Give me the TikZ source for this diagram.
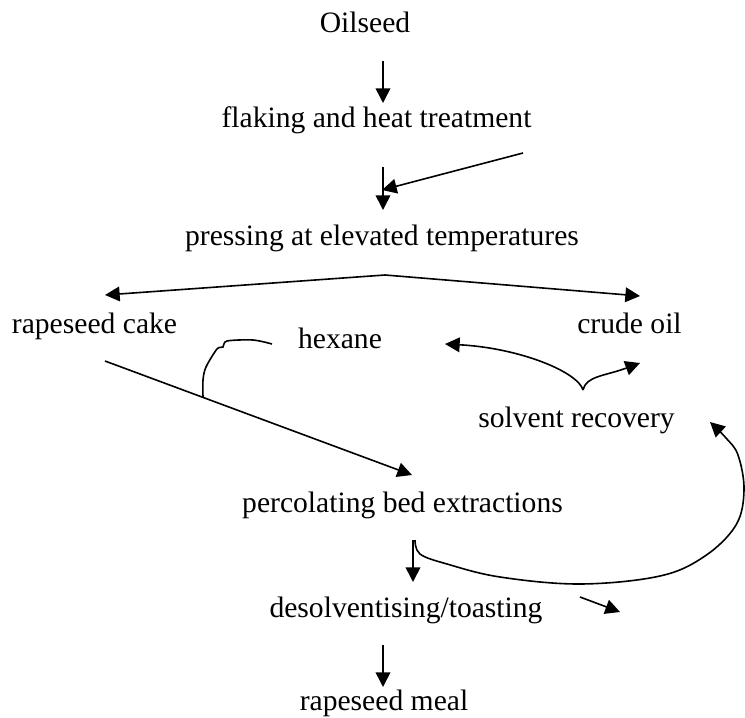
\documentclass[tikz,border=0pt]{standalone}
\usepackage{fontspec}
\setmainfont{Liberation Serif}
\usetikzlibrary{arrows.meta}
\begin{document}
\begin{tikzpicture}[x=0.75pt,y=-0.75pt,
 lbl/.style={font=\fontsize{22.2pt}{26pt}\selectfont, inner sep=0pt, anchor=base},
 flow/.style={line width=1.2pt, -{Triangle[length=11pt,width=11pt]}},
 plain/.style={line width=1.2pt}]
\useasboundingbox (0,0) rectangle (745,717);
% labels
\node[lbl] (oil) at (365,33) {Oilseed};
\node[lbl] (flk) at (376.5,127) {flaking and heat treatment};
\node[lbl] (prs) at (382,245) {pressing at elevated temperatures};
\node[lbl] (cake) at (94.5,333) {rapeseed cake};
\node[lbl] (crude) at (629.5,333) {crude oil};
\node[lbl] (hex) at (340,348) {hexane};
\node[lbl] (solv) at (576.5,427) {solvent recovery};
\node[lbl] (perc) at (402.5,512) {percolating bed extractions};
\node[lbl] (deso) at (406,617) {desolventising/toasting};
\node[lbl] (meal) at (384,710) {rapeseed meal};
% endpoints
\coordinate (a1s) at (383,61);  \coordinate (a1e) at (383,103);
\coordinate (a2s) at (383,167); \coordinate (a2e) at (383,210);
\coordinate (d1s) at (523,153); \coordinate (d1e) at (382,190);
\coordinate (apex) at (385,275);
\coordinate (ltip) at (105,295); \coordinate (rtip) at (640,296);
\coordinate (cks) at (105,361); \coordinate (cke) at (412,475);
\coordinate (hxs) at (272,344); \coordinate (hxe) at (203,397);
\coordinate (cusp) at (583,390);
\coordinate (hextip) at (445,344); \coordinate (crtip) at (640,363);
\coordinate (a3s) at (413,540); \coordinate (a3e) at (413,582);
\coordinate (bcs) at (415,540); \coordinate (bce) at (710,422);
\coordinate (d2s) at (580,597); \coordinate (d2e) at (620,612);
\coordinate (a4s) at (383,645); \coordinate (a4e) at (383,687);
% connectors
\draw[flow] (a1s) -- (a1e);
\draw[flow] (a2s) -- (a2e);
\draw[flow] (d1s) -- (d1e);
\draw[flow] (apex) -- (ltip);
\draw[flow] (apex) -- (rtip);
\draw[flow] (cks) -- (cke);
\draw[plain] plot[smooth, tension=0.5] coordinates {(hxs) (253,340) (227,341) (223,347) (217,349) (206,367) (203,380) (hxe)};
\draw[flow] (cusp) .. controls (578,372) and (520,348) .. (hextip);
\draw[flow] (cusp) .. controls (586,376) and (605,376) .. (crtip);
\draw[flow] (a3s) -- (a3e);
\draw[flow] plot[smooth, tension=0.6] coordinates {(bcs) (420,554) (447,564) (500,577) (580,584) (660,576) (705,556) (736,525) (744,490) (738,455) (726,438) (bce)};
\draw[flow] (d2s) -- (d2e);
\draw[flow] (a4s) -- (a4e);
\end{tikzpicture}
\end{document}
